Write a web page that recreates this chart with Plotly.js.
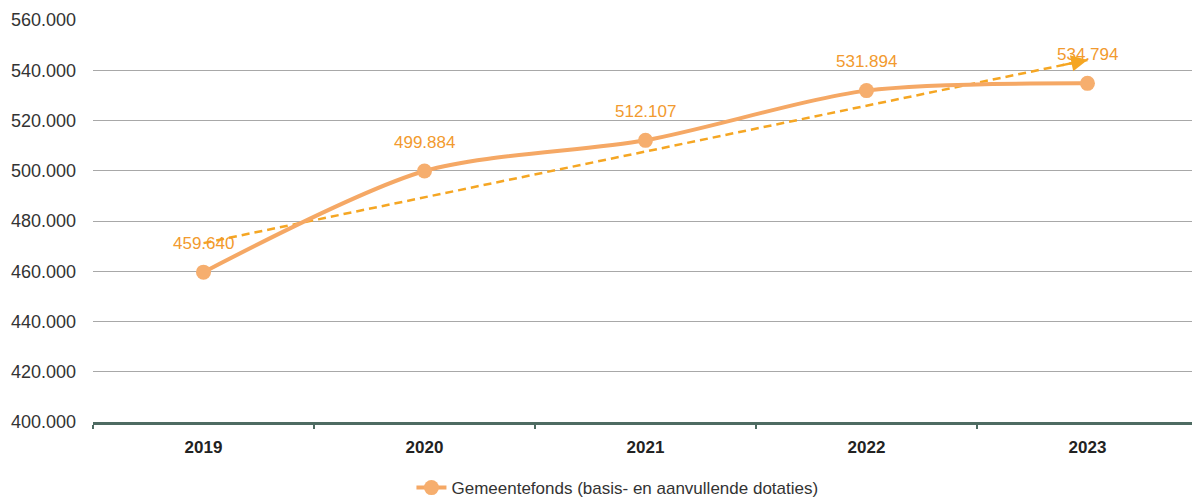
<!DOCTYPE html>
<html>
<head>
<meta charset="utf-8">
<script src="https://cdn.plot.ly/plotly-3.0.1.min.js"></script>
<style>html,body{margin:0;padding:0;background:#fff;}#chart{width:1192px;height:497px;}</style>
</head>
<body>
<div id="chart"></div>
<script>
// Data
const years = ['2019', '2020', '2021', '2022', '2023'];
const values = [459640, 499884, 512107, 531894, 534794];
const seriesName = 'Gemeentefonds (basis- en aanvullende dotaties)';
// Trend line endpoints
const trendYears = ['2019', '2023'];
const trendValues = [471200, 544100];
const yTicks = [400000, 420000, 440000, 460000, 480000, 500000, 520000, 540000, 560000];

const lineColor = '#F5A865';
const labelColor = '#F29A2E';
const trendColor = '#F5A623';
const FONT = 'Liberation Sans, Arial';

const traces = [
  {
    x: trendYears, y: trendValues, type: 'scatter', mode: 'lines',
    line: {color: trendColor, width: 2.5, dash: '8px,5px'},
    showlegend: false, hoverinfo: 'skip'
  },
  {
    x: years, y: values, type: 'scatter', mode: 'lines+markers',
    name: seriesName,
    line: {color: lineColor, width: 4, shape: 'spline', smoothing: 0.8},
    marker: {color: '#F6AE6E', size: 15}
  }
];

const fmt = v => String(v).replace(/\B(?=(\d{3})+(?!\d))/g, '.');
const annotations = values.map((v, i) => ({
  x: i, y: v, xref: 'x', yref: 'y', text: fmt(v),
  showarrow: false, yshift: 29, font: {family: FONT, size: 17, color: labelColor}
}));
// Arrowhead at end of trend line
const lastIdx = trendYears.length - 1;
const tEnd = years.indexOf(trendYears[lastIdx]);
const tStart = years.indexOf(trendYears[0]);
const tSlope = (trendValues[lastIdx] - trendValues[0]) / (tEnd - tStart);
annotations.push({
  x: tEnd, y: trendValues[lastIdx], xref: 'x', yref: 'y',
  ax: tEnd - 0.12, ay: trendValues[lastIdx] - 0.12 * tSlope,
  axref: 'x', ayref: 'y', showarrow: true, arrowhead: 2, arrowsize: 1.3,
  arrowwidth: 2.5, arrowcolor: trendColor, text: ''
});

const layout = {
  width: 1192, height: 497,
  margin: {l: 93, r: 0, t: 20, b: 75},
  paper_bgcolor: '#fff', plot_bgcolor: '#fff',
  separators: ',.',
  font: {family: FONT, size: 17, color: '#333'},
  showlegend: true,
  legend: {
    orientation: 'h', xref: 'container', yref: 'container',
    x: 0.518, xanchor: 'center', y: 0.018, yanchor: 'middle',
    font: {family: FONT, size: 17, color: '#333'}
  },
  xaxis: {
    type: 'category', categoryorder: 'array', categoryarray: years,
    range: [-0.5, 4.473], automargin: false,
    showgrid: false, zeroline: false,
    showline: true, linecolor: '#4E6B62', linewidth: 3,
    ticks: 'outside', tickson: 'boundaries', ticklen: 4, tickcolor: '#4E6B62', tickwidth: 2,
    tickfont: {family: FONT, size: 17, color: '#222', weight: 'bold'},
    ticklabelstandoff: 8
  },
  yaxis: {
    range: [400000, 560000], tickvals: yTicks, tickformat: ',d', automargin: false,
    showgrid: true, gridcolor: '#A8A8A8', gridwidth: 1,
    zeroline: false, showline: false, ticks: '',
    tickfont: {family: FONT, size: 18, color: '#333'},
    ticklabelstandoff: 16
  },
  annotations: annotations
};

Plotly.newPlot('chart', traces, layout, {displayModeBar: false, staticPlot: true});
</script>
</body>
</html>
